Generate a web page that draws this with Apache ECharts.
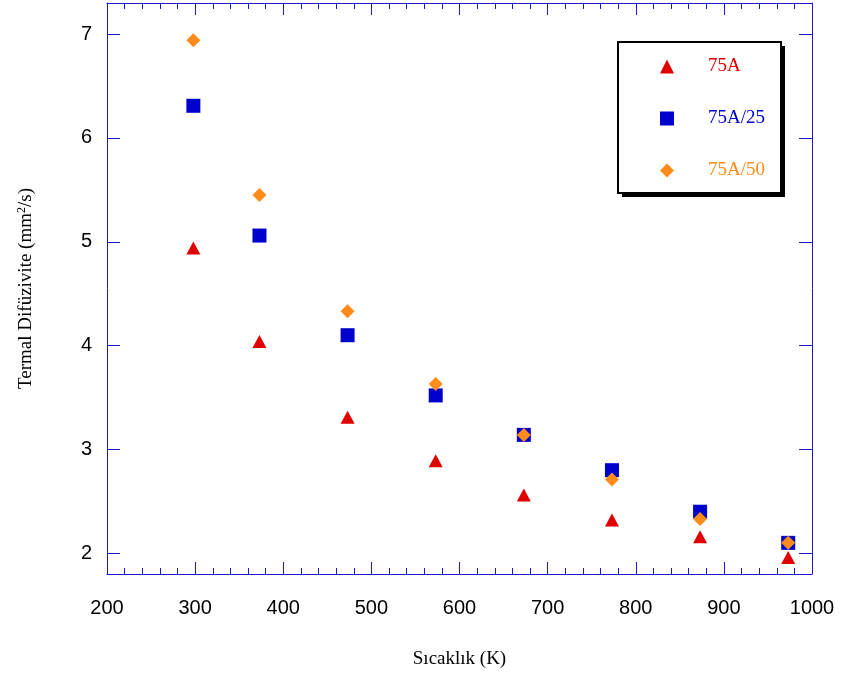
<!DOCTYPE html>
<html>
<head>
<meta charset="utf-8">
<script src="https://cdn.jsdelivr.net/npm/echarts@6/dist/echarts.min.js"></script>
<style>
  html, body { margin: 0; padding: 0; background: #fff; }
  #chart { width: 841px; height: 677px; }
</style>
</head>
<body>
<div id="chart"></div>
<script>
// Temperature (K) at which each sample was measured
const temperatures = [298, 373, 473, 573, 673, 773, 873, 973];

// Thermal diffusivity (mm²/s) for each sample
const diff75A   = [4.94, 4.04, 3.31, 2.89, 2.56, 2.32, 2.16, 1.96];
const diff75A25 = [6.31, 5.06, 4.10, 3.52, 3.14, 2.80, 2.40, 2.10];
const diff75A50 = [6.94, 5.45, 4.33, 3.63, 3.14, 2.71, 2.33, 2.10];

const seriesNames = ['75A', '75A/25', '75A/50'];
const yTickValues = [2, 3, 4, 5, 6, 7];

const RED = '#e00000';
const BLUE = '#0000cc';
const ORANGE = '#ff8c1a';
const AXIS = '#1a1acc';

function pairs(ys) {
  return temperatures.map((t, i) => [t, ys[i]]);
}

const chart = echarts.init(document.getElementById('chart'), null, { renderer: 'canvas' });

const xCommon = {
  type: 'value',
  min: 200,
  max: 1000,
  interval: 100,
  axisLine: { show: true, lineStyle: { color: AXIS, width: 1 } },
  axisTick: { show: true, inside: true, length: 12, lineStyle: { color: AXIS, width: 1 } },
  minorTick: { show: true, splitNumber: 5, length: 6, lineStyle: { color: AXIS, width: 1 } },
  splitLine: { show: false },
  minorSplitLine: { show: false }
};

const yCommon = {
  type: 'value',
  min: 1.8,
  max: 7.3,
  axisLine: { show: true, lineStyle: { color: AXIS, width: 1 } },
  axisTick: { show: true, inside: true, length: 13, customValues: yTickValues, lineStyle: { color: AXIS, width: 1 } },
  splitLine: { show: false }
};

// Legend frame with a hard drop shadow
const legendBox = { x: 618, y: 42, w: 163, h: 151, shadow: 4 };

chart.setOption({
  animation: false,
  backgroundColor: '#ffffff',
  grid: { left: 107, right: 29, top: 3, bottom: 103, containLabel: false },
  graphic: [
    {
      type: 'rect',
      z: 5,
      shape: { x: legendBox.x + legendBox.shadow, y: legendBox.y + legendBox.shadow, width: legendBox.w, height: legendBox.h },
      style: { fill: '#000000' }
    },
    {
      type: 'rect',
      z: 6,
      shape: { x: legendBox.x, y: legendBox.y, width: legendBox.w, height: legendBox.h },
      style: { fill: '#ffffff', stroke: '#000000', lineWidth: 2 }
    }
  ],
  xAxis: [
    Object.assign({}, xCommon, {
      position: 'bottom',
      name: 'Sıcaklık (K)',
      nameLocation: 'middle',
      nameGap: 76,
      nameTextStyle: { fontFamily: 'Liberation Serif', fontSize: 19, color: '#000' },
      axisLabel: {
        show: true, margin: 24, color: '#000', fontFamily: 'Liberation Sans', fontSize: 20,
        formatter: v => String(v)
      }
    }),
    Object.assign({}, xCommon, {
      position: 'top',
      axisLabel: { show: false }
    })
  ],
  yAxis: [
    Object.assign({}, yCommon, {
      position: 'left',
      name: 'Termal Difüzivite (mm{sup|2}/s)',
      nameLocation: 'middle',
      nameGap: 70,
      nameTextStyle: {
        fontFamily: 'Liberation Serif', fontSize: 19, color: '#000',
        rich: { sup: { fontFamily: 'Liberation Serif', fontSize: 12, verticalAlign: 'bottom', padding: [0, 0, 9, 0], color: '#000' } }
      },
      axisLabel: { show: true, margin: 15, color: '#000', fontFamily: 'Liberation Sans', fontSize: 20, customValues: yTickValues }
    }),
    Object.assign({}, yCommon, {
      position: 'right',
      axisLabel: { show: false }
    })
  ],
  legend: {
    z: 10,
    orient: 'vertical',
    left: 618,
    top: 42,
    padding: [15, 16, 16, 42],
    itemWidth: 14,
    itemHeight: 14,
    itemGap: 33,
    backgroundColor: 'transparent',
    borderWidth: 0,
    textStyle: { fontFamily: 'Liberation Serif', fontSize: 19, padding: [0, 0, 0, 29] },
    data: [
      { name: seriesNames[0], textStyle: { color: RED } },
      { name: seriesNames[1], textStyle: { color: BLUE } },
      { name: seriesNames[2], textStyle: { color: ORANGE } }
    ]
  },
  series: [
    {
      name: seriesNames[0],
      type: 'scatter',
      symbol: 'triangle',
      symbolSize: [14, 13],
      itemStyle: { color: RED, opacity: 1 },
      data: pairs(diff75A)
    },
    {
      name: seriesNames[1],
      type: 'scatter',
      symbol: 'rect',
      symbolSize: 14,
      itemStyle: { color: BLUE, opacity: 1 },
      data: pairs(diff75A25)
    },
    {
      name: seriesNames[2],
      type: 'scatter',
      symbol: 'diamond',
      symbolSize: 14,
      itemStyle: { color: ORANGE, opacity: 1 },
      data: pairs(diff75A50)
    }
  ]
});
</script>
</body>
</html>
